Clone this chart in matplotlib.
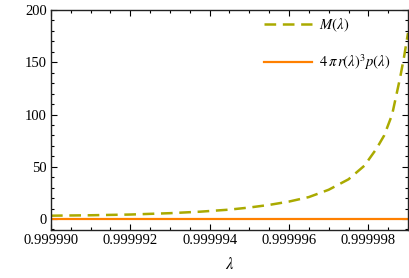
import matplotlib
matplotlib.use('Agg')
import matplotlib.pyplot as plt
from matplotlib.ticker import FixedLocator, MultipleLocator, FormatStrFormatter

plt.rcParams['font.family'] = ['Liberation Serif', 'DejaVu Serif']
plt.rcParams['mathtext.fontset'] = 'stix'
plt.rcParams['lines.scale_dashes'] = False

# values
lam = [0.9999900, 0.9999910, 0.9999920, 0.9999930, 0.99999375, 0.9999945,
       0.9999950, 0.9999955, 0.9999960, 0.9999965, 0.9999970, 0.9999975,
       0.9999979, 0.9999982, 0.9999984, 0.9999986, 0.9999988, 0.9999989,
       0.9999990]
mass = [3.2, 3.6, 4.3, 5.6, 7.0, 9.0,
        11.0, 13.5, 16.7, 21.0, 28.0, 38.0,
        51.0, 67.0, 80.0, 100.0, 135.0, 155.0,
        178.0]
pressure = [0.0] * len(lam)

xticks = [0.999990, 0.999992, 0.999994, 0.999996, 0.999998]
yticks = [0, 50, 100, 150, 200]

olive = '#aaaa00'
orange = '#ff8000'

fig = plt.figure(figsize=(4.1, 2.78), dpi=100)
ax = fig.add_axes([51/410, 1 - 230/278, 357/410, 220/278])

ax.plot(lam, mass, color=olive, lw=1.8, dashes=(8.4, 4.8),
        label=r'$M(\lambda)$')
ax.plot(lam, pressure, color=orange, lw=1.6,
        label=r'$4\,\pi\,r(\lambda)^3 p(\lambda)$')

ax.set_xlim(0.999990, 0.999999)
ax.set_ylim(-10.5, 200)

ax.xaxis.set_major_locator(FixedLocator(xticks))
ax.xaxis.set_major_formatter(FormatStrFormatter('%.6f'))
ax.xaxis.set_minor_locator(MultipleLocator(0.5e-6))
ax.yaxis.set_major_locator(FixedLocator(yticks))
ax.yaxis.set_minor_locator(MultipleLocator(10))

ax.tick_params(which='both', direction='in', top=True, right=True,
               labelsize=10.5, colors='black', width=0.8)
ax.tick_params(which='major', length=4, pad=3)
ax.tick_params(which='minor', length=2)
for s in ax.spines.values():
    s.set_linewidth(1.0)
    s.set_color('#222222')

ax.set_xlabel(r'$\lambda$', fontsize=12, labelpad=7)

ax.legend(loc='upper left', bbox_to_anchor=(0.555, 1.035), frameon=False,
          fontsize=10.5, handlelength=3.3, handletextpad=0.5,
          labelspacing=1.25, borderpad=0.5)

fig.savefig('out.png', dpi=100)
